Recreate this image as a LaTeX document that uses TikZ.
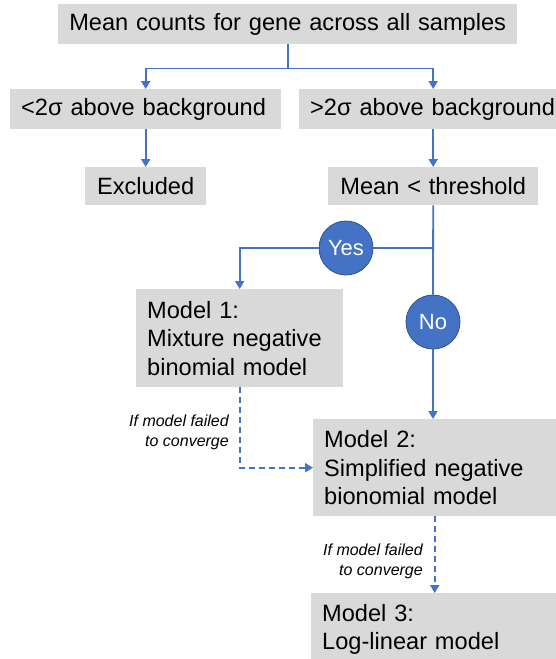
\documentclass[tikz,border=0pt]{standalone}
\usepackage{fontspec}
\setmainfont{Liberation Sans}
\usetikzlibrary{arrows.meta}
\definecolor{boxgray}{HTML}{D9D9D9}
\definecolor{flowblue}{HTML}{4472C4}
\definecolor{ringblue}{HTML}{2F528F}

\begin{document}
\begin{tikzpicture}[x=1pt,y=-1pt,
  box/.style={fill=boxgray, draw=none, anchor=north west, inner xsep=11pt, inner ysep=0pt,
    font=\fontsize{23.6}{28.5}\selectfont, text=black},
  decision/.style={circle, fill=flowblue, draw=ringblue, line width=0.8pt, minimum size=54pt,
    inner sep=0pt, text=white, font=\fontsize{22}{26}\selectfont},
  link/.style={draw=flowblue, line width=1.8pt},
  arrow/.style={link, -{Triangle[width=9pt,length=8pt]}},
  fallback/.style={arrow, dash pattern=on 6pt off 4pt},
  note/.style={font=\fontsize{16}{20}\selectfont\itshape, align=right, text=black,
    anchor=east, inner sep=0pt}]

\useasboundingbox (0,0) rectangle (556,659);

% process boxes
\node[box, text width=437pt, align=center, minimum height=40pt] (top) at (58,4) {Mean counts for gene across all samples};
\node[box, text width=249pt, align=left, minimum height=40pt] (low) at (10,89) {<2σ above background};
\node[box, text width=246pt, align=left, minimum height=40pt] (high) at (299,89) {>2σ above background};
\node[box, text width=99pt, align=center, minimum height=38pt] (excl) at (85,167) {Excluded};
\node[box, text width=188pt, align=center, minimum height=38pt] (thr) at (328,167) {Mean < threshold};
\node[box, text width=185pt, align=left, minimum height=98pt] (m1) at (136,289) {Model 1:\\Mixture negative\\binomial model};
\node[box, text width=221pt, align=left, minimum height=97pt] (m2) at (313,419) {Model 2:\\Simplified negative\\bionomial model};
\node[box, text width=223pt, align=left, minimum height=72pt] (m3) at (311,593) {Model 3:\\Log-linear model};

% decisions
\node[decision] (yes) at (346,248) {Yes};
\node[decision] (no) at (433,322) {No};

% connectors
\draw[link] (top.south) -- ++(0,24) coordinate (split);
\draw[arrow] (split) -| (low.north);
\draw[arrow] (split) -| (high.north);
\draw[arrow] (low.south) -- (excl.north);
\draw[arrow] (high.south) -- (high.south |- thr.north);
\draw[link] (thr.south) -- (no.north);
\coordinate (fork) at (thr.south |- yes.east);
\draw[link] (fork) -- (yes.east);
\draw[arrow] (yes.west) -| (m1.north);
\draw[arrow] (no.south) -- (no.south |- m2.north);
\draw[fallback] (m1.south) |- (m2.west);
\draw[fallback] (m2.south) -- (m2.south |- m3.north);

% fallback notes
\node[note] (lab1) at (229,432) {If model failed\\to converge};
\node[note] (lab2) at (423,561) {If model failed\\to converge};
\end{tikzpicture}
\end{document}
